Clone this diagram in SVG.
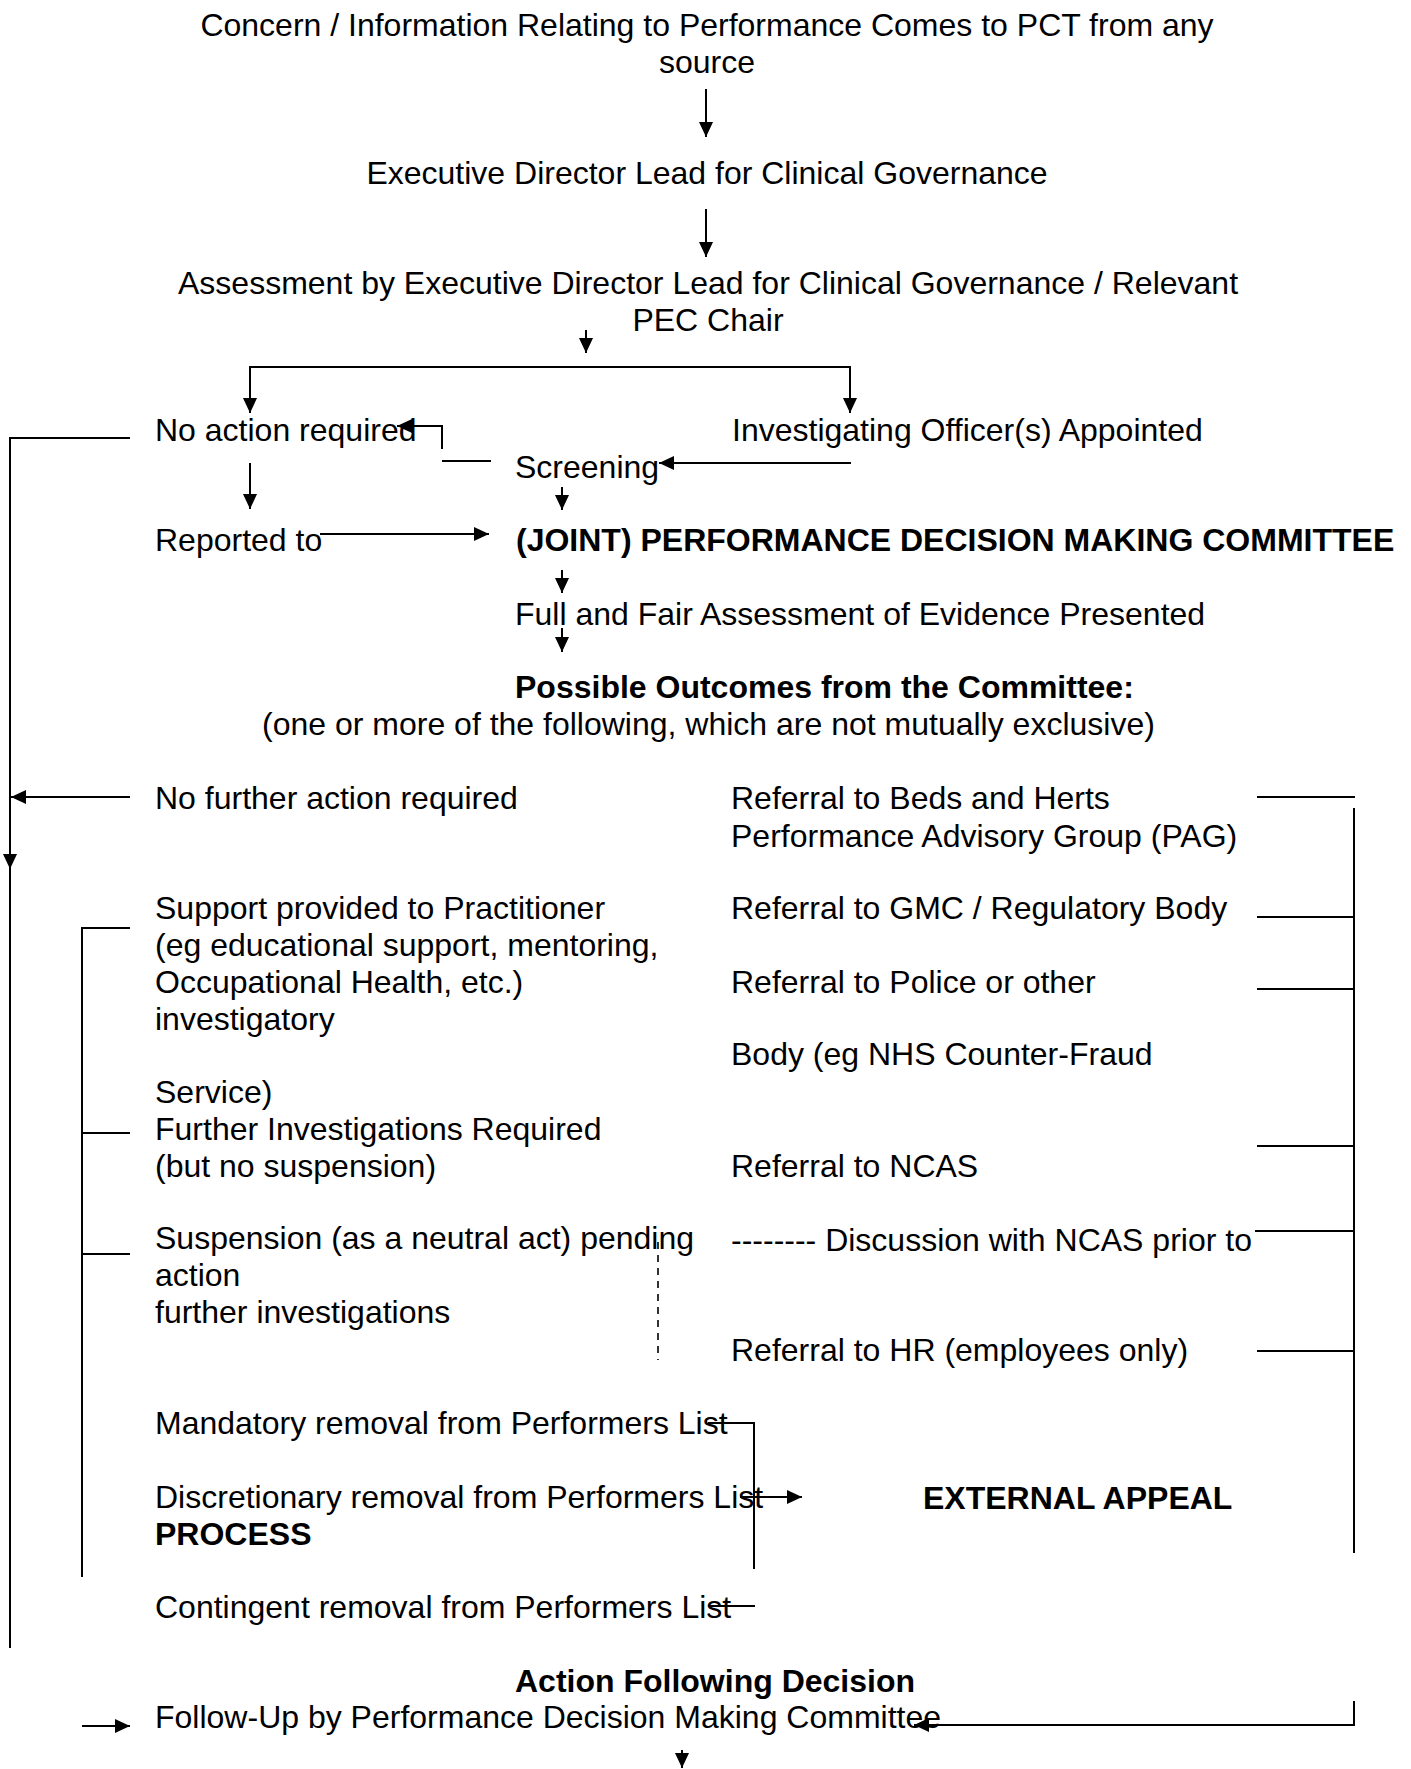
<svg xmlns="http://www.w3.org/2000/svg" width="1411" height="1769" viewBox="0 0 1411 1769">
<defs>
<style>
text{font-family:"Liberation Sans",Arial,sans-serif;font-size:32px;fill:#000}
.b{font-weight:bold}
.m{text-anchor:middle}
.c path{fill:none;stroke:#000;stroke-width:2}
.c .d{stroke-dasharray:7 6;stroke-width:1.6}
</style>
<marker id="ah" markerUnits="userSpaceOnUse" markerWidth="16" markerHeight="14" refX="15" refY="7" orient="auto">
<path d="M0,0 L15,7 L0,14 z" fill="#000"/>
</marker>
</defs>
<rect width="1411" height="1769" fill="#fff"/>

<g id="n-concern"><text class="m" x="707" y="36">Concern / Information Relating to Performance Comes to PCT from any</text><text class="m" x="707" y="73">source</text></g>
<g id="n-exec"><text class="m" x="707" y="184">Executive Director Lead for Clinical Governance</text></g>
<g id="n-assess"><text class="m" x="708" y="294">Assessment by Executive Director Lead for Clinical Governance / Relevant</text><text class="m" x="708" y="331">PEC Chair</text></g>
<g id="n-noaction"><text x="155" y="441">No action required</text></g>
<g id="n-investigating"><text x="732" y="441">Investigating Officer(s) Appointed</text></g>
<g id="n-screening"><text x="515" y="478">Screening</text></g>
<g id="n-reported"><text x="155" y="551">Reported to</text></g>
<g id="n-committee"><text class="b" x="516" y="551">(JOINT) PERFORMANCE DECISION MAKING COMMITTEE</text></g>
<g id="n-full"><text x="515" y="625">Full and Fair Assessment of Evidence Presented</text></g>
<g id="n-outcomes"><text class="b" x="515" y="698">Possible Outcomes from the Committee:</text><text x="262" y="735">(one or more of the following, which are not mutually exclusive)</text></g>
<g id="n-nofurther"><text x="155" y="809">No further action required</text></g>
<g id="n-pag"><text x="731" y="809">Referral to Beds and Herts</text><text x="731" y="847">Performance Advisory Group (PAG)</text></g>
<g id="n-support"><text x="155" y="919">Support provided to Practitioner</text><text x="155" y="956">(eg educational support, mentoring,</text><text x="155" y="993">Occupational Health, etc.)</text><text x="155" y="1030">investigatory</text><text x="155" y="1103">Service)</text></g>
<g id="n-gmc"><text x="731" y="919">Referral to GMC / Regulatory Body</text></g>
<g id="n-police"><text x="731" y="993">Referral to Police or other</text><text x="731" y="1065">Body (eg NHS Counter-Fraud</text></g>
<g id="n-furtherinv"><text x="155" y="1140">Further Investigations Required</text><text x="155" y="1177">(but no suspension)</text></g>
<g id="n-ncas"><text x="731" y="1177">Referral to NCAS</text></g>
<g id="n-suspension"><text x="155" y="1249">Suspension (as a neutral act) pending</text><text x="155" y="1286">action</text><text x="155" y="1323">further investigations</text></g>
<g id="n-discussion"><text x="731" y="1251">-------- Discussion with NCAS prior to</text></g>
<g id="n-hr"><text x="731" y="1361">Referral to HR (employees only)</text></g>
<g id="n-mandatory"><text x="155" y="1434">Mandatory removal from Performers List</text></g>
<g id="n-discretionary"><text x="155" y="1508">Discretionary removal from Performers List</text><text class="b" x="155" y="1545">PROCESS</text></g>
<g id="n-appeal"><text class="b" x="923" y="1509">EXTERNAL APPEAL</text></g>
<g id="n-contingent"><text x="155" y="1618">Contingent removal from Performers List</text></g>
<g id="n-action"><text class="b" x="515" y="1692">Action Following Decision</text></g>
<g id="n-followup"><text x="155" y="1728">Follow-Up by Performance Decision Making Committee</text></g>

<g id="connectors" class="c">
<path d="M706,89 V137" marker-end="url(#ah)"/>
<path d="M706,209 V257" marker-end="url(#ah)"/>
<path d="M586,330 V353" marker-end="url(#ah)"/>
<path d="M586,367 H250 V413" marker-end="url(#ah)"/>
<path d="M586,367 H850 V413" marker-end="url(#ah)"/>
<path d="M130,438 H10 V869" marker-end="url(#ah)"/>
<path d="M10,866 V1648"/>
<path d="M491,461 H442"/>
<path d="M442,449 V426 H397" marker-end="url(#ah)"/>
<path d="M851,463 H659" marker-end="url(#ah)"/>
<path d="M250,463 V509" marker-end="url(#ah)"/>
<path d="M562,487 V510" marker-end="url(#ah)"/>
<path d="M320,534 H489" marker-end="url(#ah)"/>
<path d="M562,570 V593" marker-end="url(#ah)"/>
<path d="M562,628 V652" marker-end="url(#ah)"/>
<path d="M130,797 H11" marker-end="url(#ah)"/>
<path d="M1257,797 H1355"/>
<path d="M1354,808 V1553"/>
<path d="M1257,917 H1354"/>
<path d="M1257,989 H1354"/>
<path d="M1257,1146 H1354"/>
<path d="M1255,1231 H1354"/>
<path d="M1257,1351 H1354"/>
<path d="M130,928 H82 V1577"/>
<path d="M83,1133 H130"/>
<path d="M83,1254 H130"/>
<path class="d" d="M658,1242 V1360"/>
<path d="M708,1423 H754 V1569"/>
<path d="M708,1606 H755"/>
<path d="M740,1497 H802" marker-end="url(#ah)"/>
<path d="M1354,1701 V1725 H914" marker-end="url(#ah)"/>
<path d="M82,1726 H130" marker-end="url(#ah)"/>
<path d="M682,1750 V1768" marker-end="url(#ah)"/>
</g>
</svg>
